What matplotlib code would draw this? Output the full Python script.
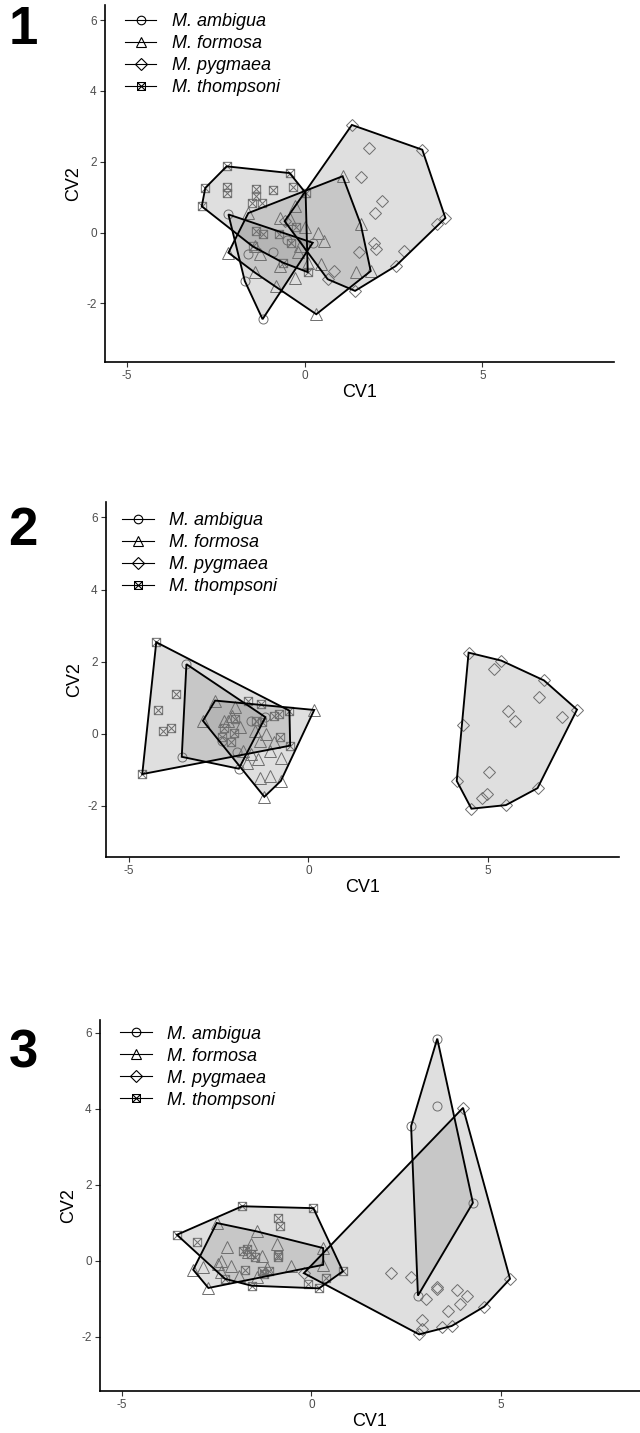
import numpy as np
import matplotlib.pyplot as plt
from matplotlib.path import Path
from matplotlib.lines import Line2D

plt.rcParams['font.family'] = ['Liberation Sans', 'DejaVu Sans']

species = ['M. ambigua', 'M. formosa', 'M. pygmaea', 'M. thompsoni']

# ---- panel 1 (CV1, CV2 pairs)
p1_ambigua = [(-2.14, 0.51), (0.23, -0.29), (-1.18, -2.45), (-1.68, -1.37),
              (-0.9, -0.55), (-0.5, -0.2), (-1.6, -0.6)]
p1_formosa = [(1.07, 1.59), (1.58, 0.23), (1.86, -1.09), (0.33, -2.31), (-2.14, -0.57),
              (-1.58, 0.55), (-0.28, 0.74), (-0.70, 0.41), (-0.42, 0.37), (0.37, -0.01),
              (0.56, -0.24), (0.0, 0.16), (-0.19, -0.56), (-0.14, -0.38), (-0.70, -0.95),
              (-0.28, -1.28), (-1.40, -1.13), (-0.79, -1.51), (0.45, -0.90), (1.44, -1.13),
              (0.09, -0.85), (-1.40, -0.39), (-1.26, -0.62)]
p1_pygmaea = [(1.33, 3.04), (3.31, 2.34), (3.96, 0.41), (3.72, 0.25), (1.80, 2.39),
              (1.58, 1.57), (2.17, 0.88), (1.98, 0.55), (2.79, -0.53), (2.56, -0.95),
              (1.96, -0.31), (2.0, -0.46), (1.52, -0.55), (1.42, -1.65), (0.82, -1.09),
              (0.65, -1.32), (-0.56, 0.32)]
p1_thompsoni = [(-2.19, 1.87), (-0.42, 1.68), (-2.79, 1.26), (-2.89, 0.74), (-2.19, 1.29),
                (-2.19, 1.12), (-1.37, 1.23), (-1.37, 1.04), (-0.88, 1.21), (-0.33, 1.29),
                (-1.49, 0.84), (-1.21, 0.84), (0.03, 1.12), (-1.37, 0.04), (-1.18, -0.03),
                (-0.72, -0.05), (-0.37, -0.29), (-0.25, 0.16), (-1.46, -0.39), (0.09, -1.12),
                (-0.61, -0.85)]

# ---- panel 2
p2_ambigua = [(-3.40, 1.93), (-3.53, -0.64), (-1.94, -0.97), (-1.20, 0.46), (-1.59, 0.35),
              (-2.4, -0.2), (-2.0, -0.5)]
p2_formosa = [(-2.94, 0.36), (-2.60, 0.92), (0.16, 0.66), (-1.23, -1.75), (-0.77, -1.31),
              (-1.07, -1.17), (-1.34, -1.22), (-2.05, 0.73), (-2.14, 0.50), (-2.24, 0.36),
              (-1.92, 0.18), (-1.50, 0.08), (-1.34, -0.19), (-1.07, -0.47), (-0.77, -0.66),
              (-1.41, -0.71), (-1.71, -0.80), (-1.82, -0.47), (-1.60, -0.57), (-1.18, -0.01),
              (-0.96, -0.24), (-2.35, 0.36)]
p2_pygmaea = [(4.46, 2.25), (5.37, 2.03), (5.18, 1.80), (6.56, 1.48), (6.43, 1.01),
              (7.48, 0.67), (7.05, 0.47), (5.56, 0.62), (5.75, 0.34), (4.31, 0.25),
              (5.04, -1.05), (4.13, -1.31), (4.97, -1.66), (4.83, -1.79), (4.54, -2.08),
              (5.50, -1.98), (6.38, -1.51)]
p2_thompsoni = [(-4.24, 2.54), (-3.69, 1.09), (-4.20, 0.67), (-4.06, 0.08), (-3.82, 0.15),
                (-4.63, -1.12), (-1.68, 0.92), (-1.31, 0.83), (-0.96, 0.50), (-0.82, 0.55),
                (-2.05, 0.41), (-2.35, 0.15), (-2.07, 0.02), (-2.17, -0.24), (-1.46, 0.34),
                (-1.30, 0.32), (-0.80, -0.10), (-0.51, -0.33), (-0.53, 0.64), (-2.40, -0.10)]

# ---- panel 3
p3_ambigua = [(3.32, 5.84), (3.32, 4.06), (2.63, 3.54), (4.26, 1.52), (2.81, -0.92)]
p3_formosa = [(-2.50, 0.99), (0.31, 0.33), (0.31, -0.11), (-2.72, -0.72), (-3.12, -0.24),
              (-1.45, 0.77), (-0.92, 0.44), (-2.23, 0.35), (-1.60, 0.44), (-1.30, 0.13),
              (-2.38, 0.0), (-2.11, -0.13), (-2.87, -0.18), (-2.38, -0.31), (-1.91, -0.40),
              (-0.54, -0.13), (-1.45, -0.44), (-1.17, -0.19), (-2.46, -0.09), (-1.67, 0.22)]
p3_pygmaea = [(4.0, 4.02), (5.24, -0.48), (4.56, -1.21), (3.70, -1.72), (3.45, -1.74),
              (2.84, -1.94), (2.91, -1.79), (2.93, -1.57), (2.10, -0.33), (2.63, -0.44),
              (3.03, -1.02), (3.32, -0.70), (3.30, -0.75), (3.85, -0.77), (4.11, -0.92),
              (3.92, -1.14), (3.60, -1.32), (-0.20, -0.33)]
p3_thompsoni = [(-3.55, 0.68), (-3.02, 0.50), (-1.83, 1.43), (0.05, 1.38), (-0.89, 1.12),
                (-0.82, 0.90), (-0.89, 0.09), (-0.89, 0.15), (-1.80, 0.25), (-1.70, 0.31),
                (-1.60, 0.18), (-1.50, 0.09), (-1.75, -0.25), (-1.30, -0.26), (-1.25, -0.35),
                (-1.13, -0.28), (-2.28, -0.48), (-1.58, -0.66), (0.20, -0.73), (-0.08, -0.62),
                (0.38, -0.47), (0.83, -0.28)]

x_ticks = [-5, 0, 5]
y_ticks = [-2, 0, 2, 4, 6]

# boxed-x marker
box_x = Path([(-1, -1), (1, -1), (1, 1), (-1, 1), (-1, -1), (-1, -1), (1, 1), (-1, 1), (1, -1)],
             [Path.MOVETO, Path.LINETO, Path.LINETO, Path.LINETO, Path.CLOSEPOLY,
              Path.MOVETO, Path.LINETO, Path.MOVETO, Path.LINETO])
markers = ['o', '^', 'D', box_x]
msizes = [6.5, 8, 6, 6]


def hull(pts):
    pts = sorted(set(pts))
    def cross(o, a, b):
        return (a[0]-o[0])*(b[1]-o[1]) - (a[1]-o[1])*(b[0]-o[0])
    lower, upper = [], []
    for p in pts:
        while len(lower) >= 2 and cross(lower[-2], lower[-1], p) <= 0:
            lower.pop()
        lower.append(p)
    for p in reversed(pts):
        while len(upper) >= 2 and cross(upper[-2], upper[-1], p) <= 0:
            upper.pop()
        upper.append(p)
    return np.array(lower[:-1] + upper[:-1])


def draw_panel(ax, groups, xlim, ylim, leg_anchor):
    for g in groups:
        h = hull(g)
        ax.fill(h[:, 0], h[:, 1], facecolor='0.5', alpha=0.25, edgecolor='none', zorder=1)
        ax.fill(h[:, 0], h[:, 1], facecolor='none', edgecolor='black', lw=1.35, zorder=3)
    for g, m, ms in zip(groups, markers, msizes):
        a = np.array(g)
        ax.plot(a[:, 0], a[:, 1], ls='none', marker=m, ms=ms, mfc='none',
                mec='#6e6e6e', mew=0.7, zorder=2)
    ax.set_xlim(*xlim)
    ax.set_ylim(*ylim)
    ax.set_xticks(x_ticks)
    ax.set_yticks(y_ticks)
    ax.set_xticklabels([str(t) for t in x_ticks])
    ax.set_yticklabels([str(t) for t in y_ticks])
    for s in ['top', 'right']:
        ax.spines[s].set_visible(False)
    for s in ['left', 'bottom']:
        ax.spines[s].set_linewidth(1.2)
    ax.tick_params(length=3.5, width=0.8, pad=2.5, labelsize=8.5, labelcolor='#4d4d4d',
                   color='#333333')
    ax.set_xlabel('CV1', fontsize=13, labelpad=1)
    ax.set_ylabel('CV2', fontsize=13, labelpad=3)
    handles = [Line2D([], [], color='black', lw=0.8, marker=m, ms=ms*0.95, mfc='none',
                      mec='black', mew=0.8) for m, ms in zip(markers, msizes)]
    ax.legend(handles, species, loc='upper left', bbox_to_anchor=leg_anchor, frameon=False,
              prop=dict(style='italic', size=13), handlelength=1.75, handletextpad=0.85,
              labelspacing=0.28, borderaxespad=0, borderpad=0)


W, H = 640, 1433
fig = plt.figure(figsize=(6.4, 14.33), dpi=100)

ax1 = fig.add_axes([105/W, 1-362/H, 509/W, 357/H])
draw_panel(ax1, [p1_ambigua, p1_formosa, p1_pygmaea, p1_thompsoni],
           (-5.61, 8.70), (-3.66, 6.43), (0.039, 0.978))

ax2 = fig.add_axes([106/W, 1-857/H, 513/W, 355/H])
draw_panel(ax2, [p2_ambigua, p2_formosa, p2_pygmaea, p2_thompsoni],
           (-5.64, 8.65), (-3.42, 6.43), (0.032, 0.972))

ax3 = fig.add_axes([100/W, 1-1391/H, 540/W, 371/H])
draw_panel(ax3, [p3_ambigua, p3_formosa, p3_pygmaea, p3_thompsoni],
           (-5.58, 8.67), (-3.43, 6.33), (0.037, 0.985))

for lab, yy in [('1', 30), ('2', 531), ('3', 1054)]:
    fig.text(23/W, 1-yy/H, lab, fontsize=38, fontweight='bold', ha='center', va='center')

fig.savefig('out.png', dpi=100)
